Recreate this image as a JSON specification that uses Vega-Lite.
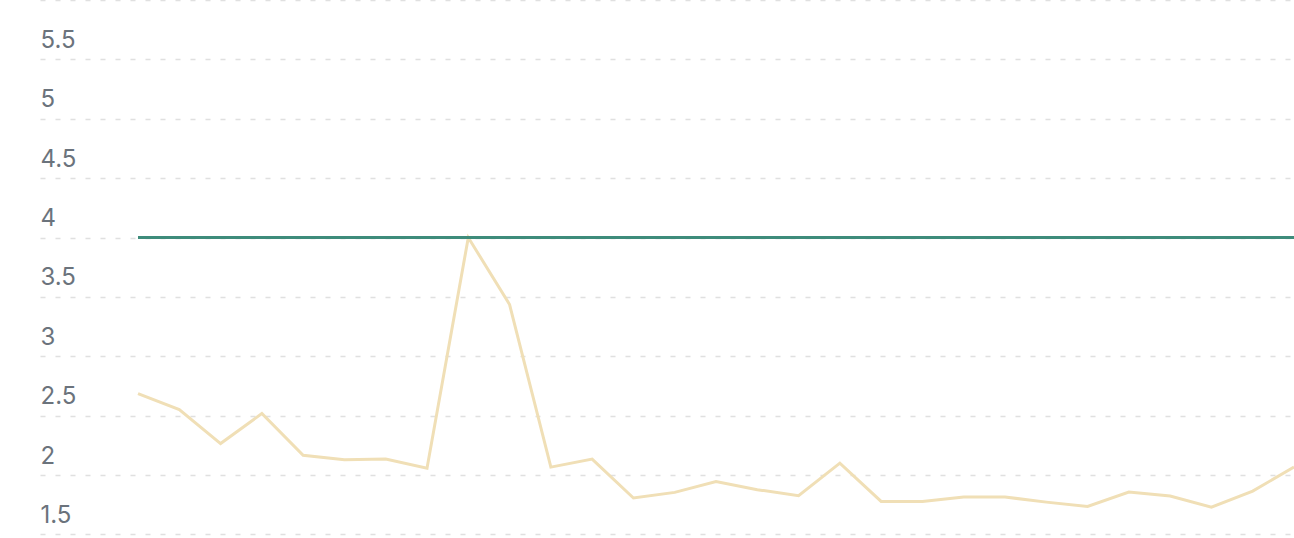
{
  "$schema": "https://vega.github.io/schema/vega-lite/v6.json",
  "width": 1254,
  "height": 538,
  "autosize": {"type": "none"},
  "padding": {"left": 40, "top": 0, "right": 0, "bottom": 0},
  "background": "white",
  "config": {"view": {"stroke": null}},
  "data": {
    "values": [
      {"i": 0, "value": 2.686, "target": 4},
      {"i": 1, "value": 2.551, "target": 4},
      {"i": 2, "value": 2.265, "target": 4},
      {"i": 3, "value": 2.518, "target": 4},
      {"i": 4, "value": 2.166, "target": 4},
      {"i": 5, "value": 2.128, "target": 4},
      {"i": 6, "value": 2.135, "target": 4},
      {"i": 7, "value": 2.057, "target": 4},
      {"i": 8, "value": 4.0, "target": 4},
      {"i": 9, "value": 3.436, "target": 4},
      {"i": 10, "value": 2.067, "target": 4},
      {"i": 11, "value": 2.134, "target": 4},
      {"i": 12, "value": 1.807, "target": 4},
      {"i": 13, "value": 1.854, "target": 4},
      {"i": 14, "value": 1.946, "target": 4},
      {"i": 15, "value": 1.877, "target": 4},
      {"i": 16, "value": 1.826, "target": 4},
      {"i": 17, "value": 2.1, "target": 4},
      {"i": 18, "value": 1.778, "target": 4},
      {"i": 19, "value": 1.778, "target": 4},
      {"i": 20, "value": 1.815, "target": 4},
      {"i": 21, "value": 1.815, "target": 4},
      {"i": 22, "value": 1.772, "target": 4},
      {"i": 23, "value": 1.736, "target": 4},
      {"i": 24, "value": 1.857, "target": 4},
      {"i": 25, "value": 1.823, "target": 4},
      {"i": 26, "value": 1.73, "target": 4},
      {"i": 27, "value": 1.865, "target": 4},
      {"i": 28, "value": 2.067, "target": 4}
    ]
  },
  "encoding": {
    "x": {
      "field": "i",
      "type": "quantitative",
      "scale": {"domain": [-2.374, 28], "nice": false, "zero": false},
      "axis": null
    }
  },
  "layer": [
    {
      "mark": {"type": "line", "color": "#f0dfb6", "strokeWidth": 3, "strokeJoin": "miter"},
      "encoding": {
        "y": {
          "field": "value",
          "type": "quantitative",
          "scale": {"domain": [1.47, 6.0], "nice": false, "zero": false},
          "axis": {
            "title": null,
            "values": [1.5, 2, 2.5, 3, 3.5, 4, 4.5, 5, 5.5, 6],
            "format": "~g",
            "labelExpr": "datum.value == 6 ? '' : datum.label",
            "domain": false,
            "ticks": false,
            "grid": true,
            "gridColor": "#e0e0e0",
            "gridWidth": 1.5,
            "gridDash": [5, 10],
            "labelAlign": "left",
            "labelBaseline": "middle",
            "labelPadding": 0,
            "labelOffset": -19,
            "labelFont": "Inter",
            "labelFontSize": 24,
            "labelColor": "#6b737c"
          }
        }
      }
    },
    {
      "mark": {"type": "line", "color": "#3e8c7b", "strokeWidth": 3},
      "encoding": {
        "y": {"field": "target", "type": "quantitative"}
      }
    }
  ]
}
